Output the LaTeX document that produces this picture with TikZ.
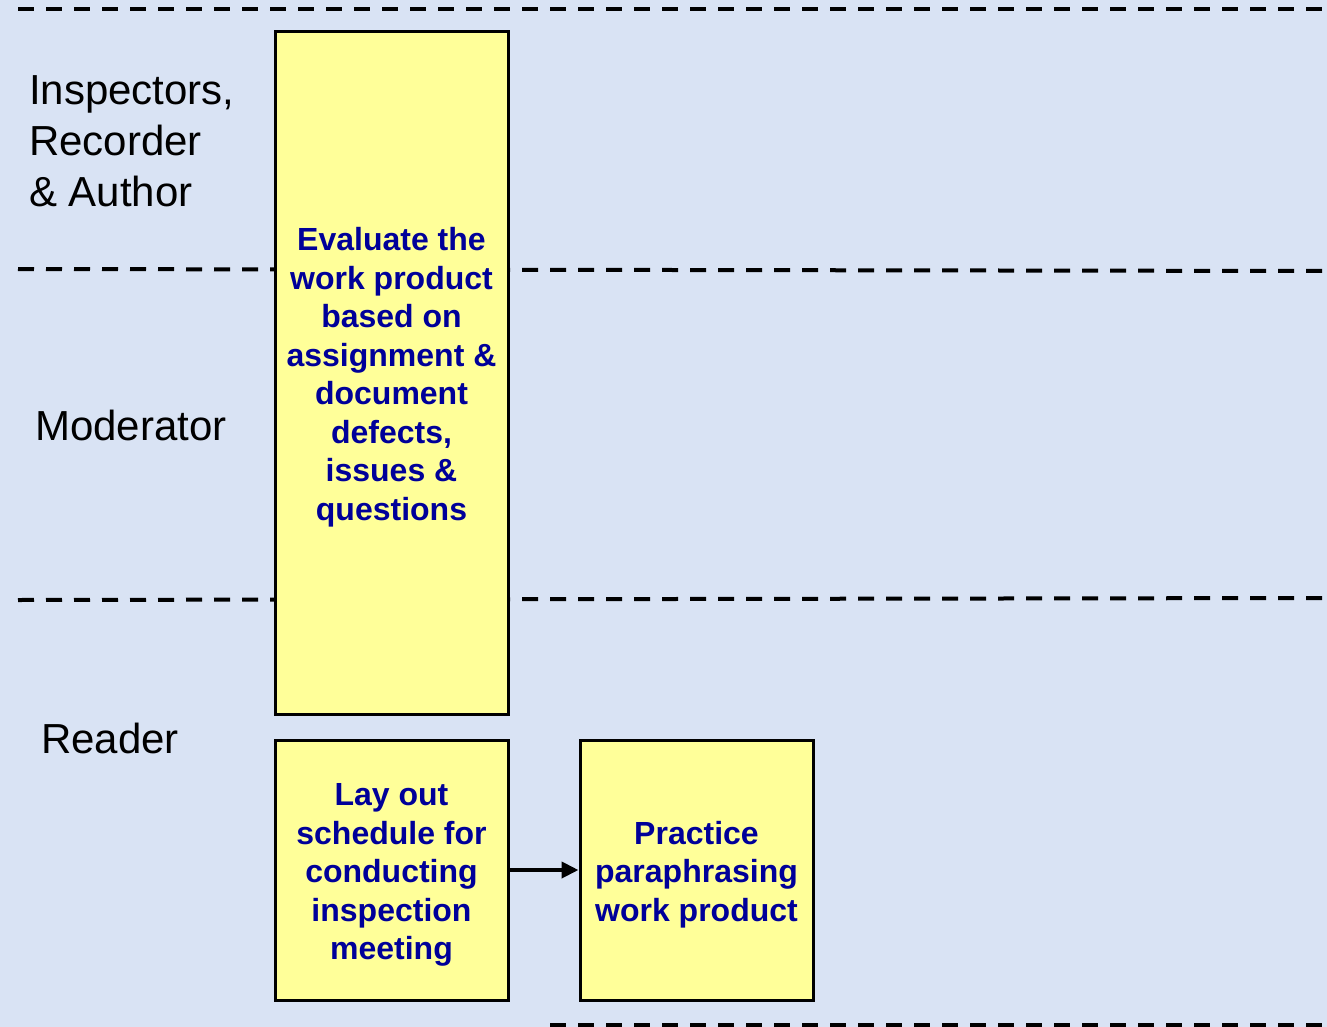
\documentclass[tikz,border=0pt]{standalone}
\usepackage{fontspec}
\setmainfont{Liberation Sans}
\usetikzlibrary{arrows.meta}
\definecolor{bgblue}{HTML}{D9E3F4}
\definecolor{boxyellow}{HTML}{FFFF99}
\definecolor{txtblue}{HTML}{000099}
\newcommand{\boxlines}[1]{\raisebox{0pt}[\dimexpr\height+10pt\relax][\depth]{\begin{tabular}{@{}c@{}}#1\end{tabular}}}
\tikzset{
  lane/.style={line width=4pt, dash pattern=on 16pt off 12pt, black},
  taskbox/.style={draw=black, line width=3pt, fill=boxyellow, inner sep=0pt,
    minimum width=233pt, text=txtblue,
    font=\fontsize{32}{38.5}\selectfont\bfseries},
  role/.style={anchor=west, align=left, inner sep=0pt,
    font=\fontsize{42}{51}\selectfont, text=black},
  flow/.style={line width=4pt, -{Triangle[length=17pt,width=16pt]}}
}
\begin{document}
\begin{tikzpicture}[x=1pt,y=-1pt]
\fill[bgblue] (0,0) rectangle (1327,1027);
\useasboundingbox (0,0) rectangle (1327,1027);
\clip (0,0) rectangle (1327,1027);
\draw[lane] (18,9) -- (1327,9);
\draw[lane] (18,269) -- (1327,271);
\draw[lane] (18,600) -- (1327,598);
\draw[lane] (550,1025) -- (1327,1025);
\node[role] (insp) at (29,141) {Inspectors,\\Recorder\\\& Author};
\node[role] (mod) at (35,425) {Moderator};
\node[role] (read) at (41,738) {Reader};
\node[taskbox, minimum height=682pt] (eval) at (391.5,373)
  {\boxlines{Evaluate the\\work product\\based on\\assignment \&\\document\\defects,\\issues \&\\questions}};
\node[taskbox, minimum height=260pt] (layout) at (391.5,870)
  {\boxlines{Lay out\\schedule for\\conducting\\inspection\\meeting}};
\node[taskbox, minimum height=260pt] (practice) at (696.5,870)
  {\boxlines{Practice\\paraphrasing\\work product}};
\draw[flow] (layout.east) -- (practice.west);
\end{tikzpicture}
\end{document}
